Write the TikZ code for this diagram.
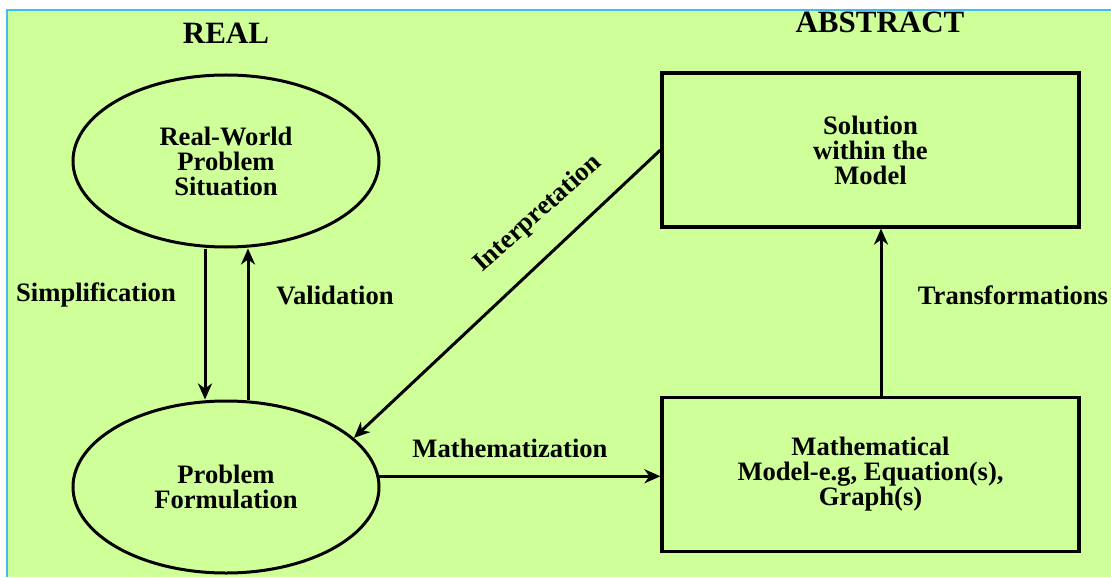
\documentclass[tikz,border=0pt]{standalone}
\usepackage{fontspec}
\setmainfont{Liberation Serif}
\usetikzlibrary{shapes.geometric,arrows.meta}
\definecolor{bggreen}{RGB}{206,255,153}
\definecolor{edgeblue}{RGB}{60,190,240}

\begin{document}
\begin{tikzpicture}[x=0.5pt,y=-0.5pt,
  conn/.style={line width=1.5pt,-{Stealth[length=8pt,width=7pt,inset=2.5pt]}},
  oval/.style={ellipse,draw,line width=1.5pt,minimum width=153pt,minimum height=86pt,
    align=center,font=\fontsize{13.3}{12.5}\selectfont\bfseries},
  block/.style={rectangle,draw,line width=1.6pt,minimum width=208.5pt,minimum height=77pt,
    align=center,font=\fontsize{13.3}{12.5}\selectfont\bfseries},
  lbl/.style={font=\fontsize{13.3}{14}\selectfont\bfseries},
  side/.style={font=\fontsize{15.5}{16}\selectfont\bfseries}]
\useasboundingbox (0,0) rectangle (1111,577);
\fill [white] (0,0) rectangle (1111,577);
\fill [bggreen] (7,10) rectangle (1111,577);
\draw [edgeblue,line width=1pt] (7,577) -- (7,10) -- (1111,10);

% the two sides
\node [side] (real) at (226,33) {REAL};
\node [side] (abstract) at (880,22) {ABSTRACT};

% real world
\node [oval] (sit) at (226,161) {Real-World\\Problem\\Situation};
\node [oval] (form) at (226,487) {Problem\\Formulation};

% abstract world
\node [block] (sol) at (870.5,150) {Solution\\within the\\Model};
\node [block] (math) at (870.5,474.5) {Mathematical\\Model-e.g, Equation(s),\\Graph(s)};

\draw [conn] ([xshift=-10.5pt]sit.south) -- ([xshift=-10.5pt]form.north);
\draw [conn] ([xshift=11pt]form.north) -- ([xshift=11pt]sit.south);
\draw [conn] (form.4) -- (form.4 -| math.west);
\draw [conn] ([xshift=5.25pt]math.north) -- ([xshift=5.25pt]sol.south);
\draw [conn] (sol.west) -- (form.21);

\node [lbl] (simp) at (96,295) {Simplification};
\node [lbl] (valid) at (335,295) {Validation};
\node [lbl] (mathz) at (510,448) {Mathematization};
\node [lbl] (trans) at (1013,295) {Transformations};
\node [lbl,rotate=42] (interp) at (538,214) {Interpretation};
\end{tikzpicture}
\end{document}
